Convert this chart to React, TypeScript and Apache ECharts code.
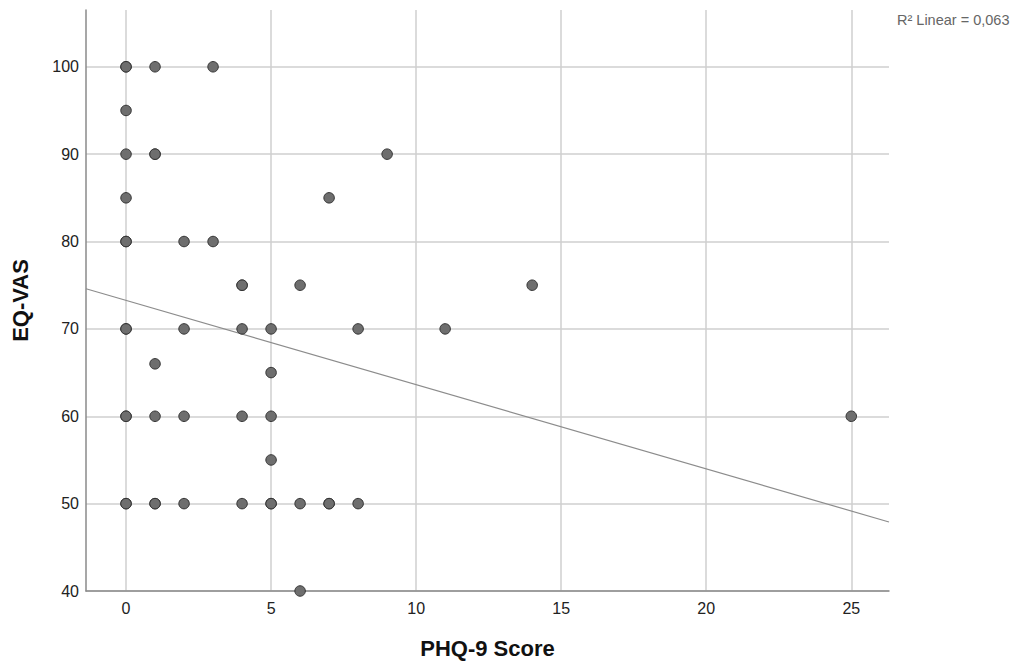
import React, { useEffect, useRef } from "react";
import * as echarts from "echarts";

// PHQ-9 score (x) vs EQ-VAS (y); repeated pairs appear as darker overlapping dots
const phq9: number[] = [
  0, 0, 1, 3,
  0,
  0, 1, 1, 9,
  0, 7,
  0, 0, 2, 3,
  4, 4, 6, 14,
  0, 0, 2, 4, 5, 8, 11,
  1,
  5,
  0, 0, 1, 2, 4, 5, 25,
  5,
  0, 0, 1, 1, 2, 4, 5, 5, 6, 7, 7, 8,
  6,
];
const eqVas: number[] = [
  100, 100, 100, 100,
  95,
  90, 90, 90, 90,
  85, 85,
  80, 80, 80, 80,
  75, 75, 75, 75,
  70, 70, 70, 70, 70, 70, 70,
  66,
  65,
  60, 60, 60, 60, 60, 60, 60,
  55,
  50, 50, 50, 50, 50, 50, 50, 50, 50, 50, 50, 50,
  40,
];

// Fitted linear regression line, read at the two plot edges
const fitX: number[] = [-1.38, 26.3];
const fitY: number[] = [74.6, 47.9];

const xTicks: number[] = [0, 5, 10, 15, 20, 25];
const yTicks: number[] = [40, 50, 60, 70, 80, 90, 100];
const r2Label = "R² Linear = 0,063";
const xName = "PHQ-9 Score";
const yName = "EQ-VAS";

export default function App() {
  const ref = useRef<HTMLDivElement>(null);
  useEffect(() => {
    if (!ref.current) return;
    const chart = echarts.init(ref.current, null, { renderer: "svg" });
    const font = "Liberation Sans, Arial, sans-serif";
    chart.setOption({
      animation: false,
      backgroundColor: "#ffffff",
      grid: { left: 86, right: 127, top: 10, bottom: 75, containLabel: false, outerBoundsMode: "none" },
      xAxis: {
        type: "value",
        min: fitX[0],
        max: fitX[1],
        name: xName,
        nameLocation: "middle",
        nameGap: 46,
        nameTextStyle: { fontFamily: font, fontSize: 22, fontWeight: "bold", color: "#111" },
        axisLine: { show: true, onZero: false, lineStyle: { color: "#8a8a8a", width: 1.5 } },
        axisTick: { show: false, customValues: xTicks },
        axisLabel: { customValues: xTicks, fontFamily: font, fontSize: 16, color: "#222", margin: 9 },
        splitLine: { show: true, lineStyle: { color: "#cfcfcf", width: 1.5 } },
      },
      yAxis: {
        type: "value",
        min: 40,
        max: 106.5,
        name: yName,
        nameLocation: "middle",
        nameGap: 55,
        nameRotate: 90,
        nameTextStyle: { fontFamily: font, fontSize: 22, fontWeight: "bold", color: "#111" },
        axisLine: { show: true, onZero: false, lineStyle: { color: "#8a8a8a", width: 1.5 } },
        axisTick: { show: false, customValues: yTicks },
        axisLabel: { customValues: yTicks, fontFamily: font, fontSize: 16, color: "#222", margin: 7 },
        splitLine: { show: true, lineStyle: { color: "#cfcfcf", width: 1.5 } },
      },
      graphic: [
        {
          type: "text",
          left: 897,
          top: 12,
          style: { text: r2Label, fontFamily: font, fontSize: 14.5, fill: "#666" },
        },
      ],
      series: [
        {
          type: "line",
          data: fitX.map((x, i) => [x, fitY[i]]),
          showSymbol: false,
          symbol: "none",
          silent: true,
          lineStyle: { color: "#8c8c8c", width: 1.2 },
          z: 3,
        },
        {
          type: "scatter",
          data: phq9.map((x, i) => [x, eqVas[i]]),
          symbol: "circle",
          symbolSize: 10.5,
          clip: false,
          itemStyle: { color: "#6e6e6e", borderColor: "#333", borderWidth: 1, opacity: 1 },
          z: 4,
        },
      ],
    });
    return () => chart.dispose();
  }, []);
  return (
    <div
      ref={ref}
      style={{ position: "fixed", left: 0, top: 0, width: 1016, height: 666, background: "#fff" }}
    />
  );
}
